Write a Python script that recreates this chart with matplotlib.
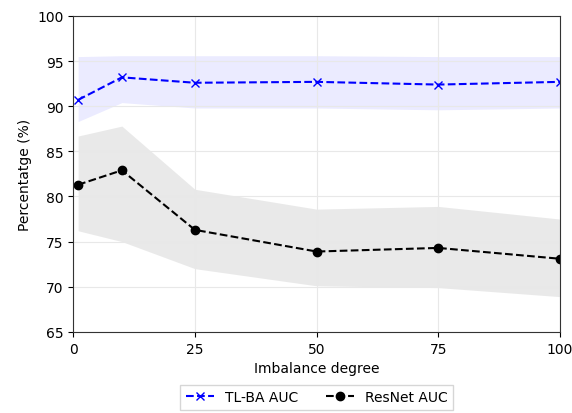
import numpy as np
import matplotlib.pyplot as plt

# imbalance degrees and mean values
degrees = [1, 10, 25, 50, 75, 100]
tlba_auc = [90.7, 93.2, 92.6, 92.7, 92.4, 92.7]
tlba_low = [88.3, 90.4, 89.8, 89.8, 89.6, 89.8]
tlba_high = [95.5, 95.6, 95.6, 95.6, 95.5, 95.5]
resnet_auc = [81.3, 82.9, 76.3, 73.9, 74.3, 73.1]
resnet_low = [76.2, 75.0, 72.0, 70.1, 69.9, 68.9]
resnet_high = [86.7, 87.8, 80.8, 78.6, 78.9, 77.5]

fig, ax = plt.subplots(figsize=(5.72, 4.14), dpi=100)

ax.fill_between(degrees, tlba_low, tlba_high, color='blue', alpha=0.08, linewidth=0)
ax.fill_between(degrees, resnet_low, resnet_high, color='gray', alpha=0.17, linewidth=0)
ax.plot(degrees, tlba_auc, '--', color='blue', marker='x', label='TL-BA AUC')
ax.plot(degrees, resnet_auc, '--', color='black', marker='o', label='ResNet AUC')

ax.set_xlim(0, 100)
ax.set_ylim(65, 100)
ax.set_xticks([0, 25, 50, 75, 100])
ax.set_yticks(np.arange(65, 101, 5))
ax.grid(True, color='#e8e8e8', linewidth=0.8)
ax.set_xlabel('Imbalance degree')
ax.set_ylabel('Percentatge (%)')
for s in ax.spines.values():
    s.set_color('#333333')

ax.legend(loc='upper center', bbox_to_anchor=(0.5, -0.145), ncol=2, frameon=True,
          fancybox=False, edgecolor='#cccccc', handlelength=2)

fig.subplots_adjust(left=0.128, right=0.979, top=0.959, bottom=0.196)
fig.savefig('out.png')
